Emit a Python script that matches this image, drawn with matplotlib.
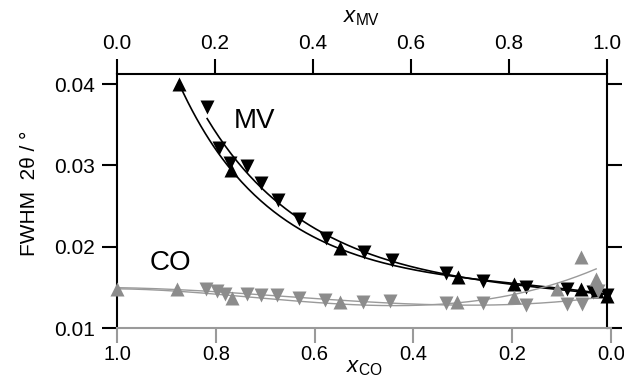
import numpy as np
import matplotlib
matplotlib.use("Agg")
import matplotlib.pyplot as plt

plt.rcParams['font.family'] = ['Liberation Sans', 'DejaVu Sans']
plt.rcParams['mathtext.fontset'] = 'custom'
plt.rcParams['mathtext.rm'] = 'Liberation Sans'
plt.rcParams['mathtext.it'] = 'Liberation Sans:italic'

# MV series (vs x_MV, top axis)
mv_up_x = [0.127, 0.233, 0.455, 0.696, 0.810, 0.947, 0.980, 1.000]
mv_up_y = [0.0400, 0.0294, 0.0198, 0.01624, 0.01538, 0.01477, 0.01452, 0.01390]
mv_dn_x = [0.184, 0.208, 0.231, 0.265, 0.294, 0.329, 0.371, 0.427, 0.504, 0.561,
           0.671, 0.747, 0.835, 0.918, 0.971, 1.000]
mv_dn_y = [0.03718, 0.03213, 0.03028, 0.02992, 0.02782, 0.02573, 0.02339, 0.02105,
           0.01932, 0.01834, 0.01674, 0.01575, 0.01501, 0.01477, 0.01440, 0.01400]

# CO series (vs x_CO, bottom axis)
co_up_x = [1.000, 0.879, 0.767, 0.549, 0.312, 0.196, 0.109, 0.061, 0.030]
co_up_y = [0.01477, 0.01477, 0.01366, 0.01317, 0.01317, 0.01378, 0.01477, 0.01871, 0.01600]
co_dn_x = [0.820, 0.798, 0.781, 0.737, 0.709, 0.676, 0.632, 0.579, 0.502, 0.447,
           0.334, 0.259, 0.172, 0.089, 0.059, 0.026]
co_dn_y = [0.01477, 0.01452, 0.01415, 0.01415, 0.01403, 0.01403, 0.01366, 0.01341,
           0.01317, 0.01329, 0.01304, 0.01304, 0.01280, 0.01292, 0.01292, 0.01452]

top_ticks = [0.0, 0.2, 0.4, 0.6, 0.8, 1.0]
bot_ticks = [1.0, 0.8, 0.6, 0.4, 0.2, 0.0]
y_ticks = [0.01, 0.02, 0.03, 0.04]

BLACK = '#000000'
GRAY = '#8c8c8c'
LGRAY = '#9a9a9a'


def logpolyfit(x, y, deg=3):
    p = np.polyfit(np.asarray(x), np.log(np.asarray(y)), deg)
    return lambda t: np.exp(np.polyval(p, t))


W, H = 624, 380
fig = plt.figure(figsize=(W / 100, H / 100), dpi=100)
L, R, T, B = 117, 607, 74, 328
ax = fig.add_axes([L / W, 1 - B / H, (R - L) / W, (B - T) / H])
axb = fig.add_axes([L / W, 1 - B / H, (611 - L) / W, (B - T) / H], sharey=ax)
axb.patch.set_alpha(0)
for s in ['top', 'right', 'left']:
    axb.spines[s].set_visible(False)
axb.spines['bottom'].set_color(LGRAY)
axb.spines['bottom'].set_linewidth(1.5)
axb.set_xlim(1.0, 0.0)
axb.set_xticks(bot_ticks)
axb.set_xticklabels([f'{v:.1f}' for v in bot_ticks])
axb.tick_params(axis='x', direction='out', length=11, width=1.5, color=LGRAY,
                labelsize=14.5, pad=1)
axb.tick_params(axis='y', left=False, labelleft=False)
axb.set_xlabel('$x_{\\mathrm{CO}}$', fontsize=16)
axb.xaxis.set_label_coords(0.5, -0.115)

ax.set_xlim(0, 1)
ax.set_ylim(0.01, 0.04123)
ax.spines['bottom'].set_visible(False)
for s in ['top', 'right', 'left']:
    ax.spines[s].set_linewidth(1.5)
ax.xaxis.tick_top()
ax.xaxis.set_label_position('top')
ax.set_xticks(top_ticks)
ax.set_xticklabels([f'{v:.1f}' for v in top_ticks])
ax.set_yticks(y_ticks)
ax.set_yticklabels([f'{v:.2f}' for v in y_ticks])
ax.tick_params(axis='x', direction='out', length=11, width=1.5, labelsize=15, pad=4)
ax.tick_params(axis='y', direction='out', length=11, width=1.5, labelsize=15, pad=5,
               right=True)
ax.set_xlabel('$x_{\\mathrm{MV}}$', fontsize=16)
ax.xaxis.set_label_coords(0.5, 1.205)
ax.set_ylabel('FWHM  2θ / °', fontsize=15)
ax.yaxis.set_label_coords(-0.16, 0.53)

# CO fits and markers (bottom axis)
pu = np.polyfit(co_up_x, co_up_y, 3)
pd = np.polyfit(co_dn_x, co_dn_y, 3)
tu = np.linspace(min(co_up_x), max(co_up_x), 200)
td = np.linspace(min(co_dn_x), 1.0, 200)
axb.plot(tu, np.polyval(pu, tu), color=LGRAY, lw=1.0)
axb.plot(td, np.polyval(pd, td), color=LGRAY, lw=1.0)
axb.plot(co_up_x, co_up_y, '^', color=GRAY, ms=10.5, mec='none', clip_on=False)
axb.plot(co_dn_x, co_dn_y, 'v', color=GRAY, ms=10.5, mec='none', clip_on=False)

# MV fits and markers (top axis)
fu = logpolyfit(mv_up_x, mv_up_y, 3)
fd = logpolyfit(mv_dn_x, mv_dn_y, 3)
t1 = np.linspace(min(mv_up_x), 1.0, 200)
t2 = np.linspace(min(mv_dn_x), 1.0, 200)
ax.plot(t1, fu(t1), color=BLACK, lw=1.2)
ax.plot(t2, fd(t2), color=BLACK, lw=1.2)
ax.plot(mv_up_x, mv_up_y, '^', color=BLACK, ms=10.5, mec='none', clip_on=False)
ax.plot(mv_dn_x, mv_dn_y, 'v', color=BLACK, ms=10.5, mec='none', clip_on=False)

ax.text(0.28, 0.0354, 'MV', fontsize=20, ha='center', va='center')
ax.text(0.109, 0.01797, 'CO', fontsize=20, ha='center', va='center')

fig.savefig('out.png', dpi=100)
